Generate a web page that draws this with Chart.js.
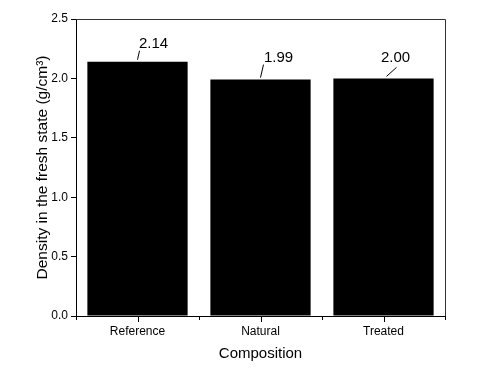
<!DOCTYPE html>
<html>
<head>
<meta charset="utf-8">
<script src="https://cdn.jsdelivr.net/npm/chart.js@4"></script>
<style>
  html, body { margin: 0; padding: 0; background: #fff; }
  #wrap { width: 497px; height: 378px; }
</style>
</head>
<body>
<div id="wrap"><canvas id="densityChart" width="497" height="378"></canvas></div>
<script>
const categories = ["Reference", "Natural", "Treated"];
const densityValues = [2.14, 1.99, 2.00];
const valueLabels = ["2.14", "1.99", "2.00"];
const yTicks = [0.0, 0.5, 1.0, 1.5, 2.0, 2.5];

const FONT = "'Liberation Sans', Arial, sans-serif";

// leader line + label offsets (px) per bar: [startDx, lineDx, lineDy, labelDx, labelDy]
const labelOffsets = [
  [0, 2, -9, 16, -12],
  [0, 3, -13, 18, -16],
  [3, 10, -9, 12, -14]
];

const frameAndLabels = {
  id: "frameAndLabels",
  afterDraw(chart) {
    const ctx = chart.ctx;
    const area = chart.chartArea;
    const x = chart.scales.x;
    const y = chart.scales.y;

    ctx.save();
    // top + right frame
    ctx.strokeStyle = "#333";
    ctx.lineWidth = 1;
    ctx.beginPath();
    ctx.moveTo(area.left, area.top + 0.5);
    ctx.lineTo(area.right + 0.5, area.top + 0.5);
    ctx.lineTo(area.right + 0.5, area.bottom);
    ctx.stroke();

    // center ticks on x axis
    ctx.strokeStyle = "#000";
    categories.forEach((c, i) => {
      const px = Math.round(x.getPixelForValue(i)) + 0.5;
      ctx.beginPath();
      ctx.moveTo(px, area.bottom);
      ctx.lineTo(px, area.bottom + 6);
      ctx.stroke();
    });

    // value labels with leader lines
    ctx.font = "15px " + FONT;
    ctx.fillStyle = "#000";
    ctx.textAlign = "center";
    ctx.textBaseline = "alphabetic";
    densityValues.forEach((v, i) => {
      const bx = x.getPixelForValue(i);
      const by = y.getPixelForValue(v) - 2;
      const o = labelOffsets[i];
      ctx.beginPath();
      ctx.moveTo(bx + o[0], by);
      ctx.lineTo(bx + o[0] + o[1], by + o[2]);
      ctx.stroke();
      ctx.fillText(valueLabels[i], bx + o[3], by + o[4]);
    });
    ctx.restore();
  }
};

new Chart(document.getElementById("densityChart").getContext("2d"), {
  type: "bar",
  data: {
    labels: categories,
    datasets: [{
      data: densityValues,
      backgroundColor: "#000",
      borderWidth: 0,
      barPercentage: 0.815,
      categoryPercentage: 1.0
    }]
  },
  options: {
    responsive: false,
    animation: false,
    devicePixelRatio: 1,
    layout: { padding: { left: 29, top: 19, right: 52, bottom: 11 } },
    plugins: {
      legend: { display: false },
      tooltip: { enabled: false }
    },
    scales: {
      x: {
        offset: true,
        afterFit: s => { s.height = 51; },
        border: { display: true, color: "#000", width: 1 },
        grid: { offset: true, drawOnChartArea: false, tickLength: 4, color: "#000" },
        ticks: { color: "#000", font: { family: FONT, size: 12 }, padding: 4 },
        title: {
          display: true,
          text: "Composition",
          color: "#000",
          font: { family: FONT, size: 15 },
          padding: { top: 6 }
        }
      },
      y: {
        min: 0,
        max: 2.5,
        afterFit: s => { s.width = 47; },
        afterBuildTicks: s => { s.ticks = yTicks.map(v => ({ value: v })); },
        border: { display: true, color: "#000", width: 1 },
        grid: { drawOnChartArea: false, tickLength: 5, color: "#000" },
        ticks: {
          color: "#000",
          font: { family: FONT, size: 12 },
          padding: 3,
          callback: v => v.toFixed(1)
        },
        title: {
          display: true,
          text: "Density in the fresh state (g/cm³)",
          color: "#000",
          font: { family: FONT, size: 15.5 },
          padding: { bottom: 2 }
        }
      }
    }
  },
  plugins: [frameAndLabels]
});
</script>
</body>
</html>
